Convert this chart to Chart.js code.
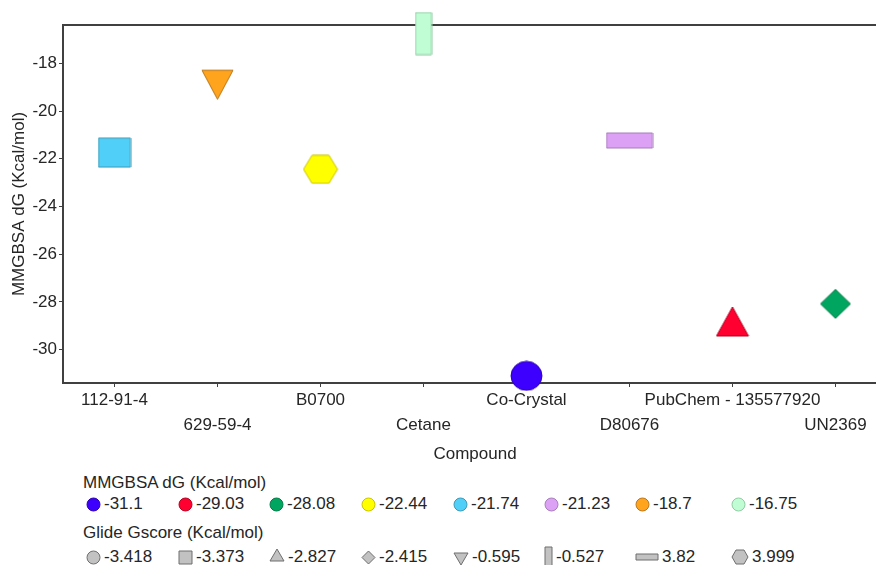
<!DOCTYPE html>
<html>
<head>
<meta charset="utf-8">
<script src="https://cdn.jsdelivr.net/npm/chart.js@4/dist/chart.umd.min.js"></script>
<style>
  html, body { margin: 0; padding: 0; overflow: hidden; background: #fff; }
  body { width: 876px; height: 565px; position: relative; font-family: 'Liberation Sans', Arial, sans-serif; color: #262626; }
  #myChart { position: absolute; left: 0; top: 0; }
  .lg-title { position: absolute; left: 83px; height: 20px; line-height: 20px; font-size: 17px; white-space: nowrap; }
  .lg-row { position: absolute; left: 86px; height: 20px; display: grid; grid-template-columns: 92px 91px 92px 92px 91px 91px 96px auto; font-size: 17px; }
  .lg-item { display: flex; align-items: center; white-space: nowrap; line-height: 20px; }
  .lg-item canvas { margin-right: 3px; }
</style>
</head>
<body>
<canvas id="myChart" width="892" height="470"></canvas>
<div class="lg-title" style="top:473px">MMGBSA dG (Kcal/mol)</div>
<div class="lg-row" id="colorRow" style="top:494px"></div>
<div class="lg-title" style="top:523px">Glide Gscore (Kcal/mol)</div>
<div class="lg-row" id="shapeRow" style="top:546px"></div>
<script>
// 數據
var compounds = ['112-91-4', '629-59-4', 'B0700', 'Cetane', 'Co-Crystal', 'D80676', 'PubChem - 135577920', 'UN2369'];
var mmgbsaValues = [-21.74, -18.7, -22.44, -16.75, -31.1, -21.23, -29.03, -28.08];
var gscoreValues = [-3.373, -0.595, 3.999, -0.527, -3.418, 3.82, -2.827, -2.415];
var yTicks = [-30, -28, -26, -24, -22, -20, -18];

// 圖例順序 (小到大)
var colorLegend = mmgbsaValues.slice().sort((a, b) => a - b);
var shapeLegend = gscoreValues.slice().sort((a, b) => a - b);

// 顏色對應 colorLegend 順序
var fills = ['#3d00ff', '#ff0030', '#00a560', '#ffff00', '#50d0f8', '#dca0f5', '#ffa41c', '#c0fcd4'];
var strokes = ['#2a00b0', '#b3001f', '#007a45', '#c9c400', '#3a98b5', '#a87cbc', '#b8761a', '#8fcca3'];
// 形狀對應 shapeLegend 順序: [形狀, 圖上寬, 圖上高, 圖例寬, 圖例高]
var shapes = [
    ['circle', 31, 29, 13, 13],
    ['rect', 32, 29, 13, 13],
    ['triangle', 32, 29, 14, 12],
    ['diamond', 30, 29, 13, 13],
    ['invtri', 31, 29, 14, 12],
    ['rect', 16, 42, 7, 20],
    ['rect', 46, 15, 22, 6],
    ['hexagon', 34, 28, 16, 14]
];

function makeMarker(shape, w, h, fill, stroke) {
    var pad = 1;
    var c = document.createElement('canvas');
    var ch = (shape === 'triangle' || shape === 'invtri') ? h * 4 / 3 : h;
    c.width = Math.ceil(w + pad * 2);
    c.height = Math.ceil(ch + pad * 2);
    var ctx = c.getContext('2d');
    var cx = c.width / 2, cy = c.height / 2;
    var l = cx - w / 2, r = cx + w / 2, t = cy - h / 2, b = cy + h / 2;
    ctx.beginPath();
    if (shape === 'circle') {
        ctx.ellipse(cx, cy, w / 2, h / 2, 0, 0, Math.PI * 2);
    } else if (shape === 'rect') {
        ctx.rect(l, t, w, h);
    } else if (shape === 'triangle') {
        // 重心在中心
        ctx.moveTo(cx, pad);
        ctx.lineTo(r, pad + h);
        ctx.lineTo(l, pad + h);
        ctx.closePath();
    } else if (shape === 'invtri') {
        ctx.moveTo(l, pad + h / 3);
        ctx.lineTo(r, pad + h / 3);
        ctx.lineTo(cx, pad + h * 4 / 3);
        ctx.closePath();
    } else if (shape === 'diamond') {
        ctx.moveTo(cx, t);
        ctx.lineTo(r, cy);
        ctx.lineTo(cx, b);
        ctx.lineTo(l, cy);
        ctx.closePath();
    } else if (shape === 'hexagon') {
        ctx.moveTo(l, cy);
        ctx.lineTo(cx - w / 4, t);
        ctx.lineTo(cx + w / 4, t);
        ctx.lineTo(r, cy);
        ctx.lineTo(cx + w / 4, b);
        ctx.lineTo(cx - w / 4, b);
        ctx.closePath();
    }
    ctx.fillStyle = fill;
    ctx.fill();
    ctx.lineWidth = 1;
    ctx.strokeStyle = stroke;
    ctx.stroke();
    return c;
}

// 每個點的圖示
var pointImages = compounds.map(function (name, i) {
    var ci = colorLegend.indexOf(mmgbsaValues[i]);
    var s = shapes[shapeLegend.indexOf(gscoreValues[i])];
    return makeMarker(s[0], s[1], s[2], fills[ci], strokes[ci]);
});

// 圖例
var colorRow = document.getElementById('colorRow');
colorLegend.forEach(function (v, i) {
    var item = document.createElement('div');
    item.className = 'lg-item';
    item.appendChild(makeMarker('circle', 13, 13, fills[i], strokes[i]));
    item.appendChild(document.createTextNode(String(v)));
    colorRow.appendChild(item);
});
var shapeRow = document.getElementById('shapeRow');
shapeLegend.forEach(function (v, i) {
    var s = shapes[i];
    var item = document.createElement('div');
    item.className = 'lg-item';
    item.appendChild(makeMarker(s[0], s[3], s[4], '#c2c2c2', '#6e6e6e'));
    item.appendChild(document.createTextNode(String(v)));
    shapeRow.appendChild(item);
});

// 上框線
var topBorder = {
    id: 'topBorder',
    beforeDatasetsDraw: function (chart) {
        var a = chart.chartArea, ctx = chart.ctx;
        ctx.save();
        ctx.strokeStyle = '#404040';
        ctx.lineWidth = 2;
        ctx.beginPath();
        ctx.moveTo(a.left - 1, a.top);
        ctx.lineTo(a.right, a.top);
        ctx.stroke();
        ctx.restore();
    }
};

var font = { family: "'Liberation Sans', Arial, sans-serif", size: 17 };
var ctx = document.getElementById('myChart').getContext('2d');
var myChart = new Chart(ctx, {
    type: 'line',
    data: {
        labels: compounds.map((c, i) => i % 2 === 0 ? [c, ''] : ['', c]),
        datasets: [{
            label: 'MMGBSA dG',
            data: mmgbsaValues,
            showLine: false,
            pointStyle: pointImages,
            pointRadius: 15,
            pointHoverRadius: 15,
            clip: false
        }]
    },
    options: {
        responsive: false,
        animation: false,
        layout: { autoPadding: false, padding: { left: 0, right: 5, top: 25, bottom: 0 } },
        plugins: { legend: { display: false }, tooltip: { enabled: false } },
        scales: {
            x: {
                type: 'category',
                offset: true,
                afterFit: function (scale) { scale.height = 87; },
                grid: { display: true, drawOnChartArea: false, offset: false, tickLength: 4, color: '#404040' },
                border: { color: '#404040', width: 2 },
                ticks: {
                    autoSkip: false, maxRotation: 0, minRotation: 0, padding: 1,
                    color: '#262626', font: Object.assign({ lineHeight: 25 / 17 }, font)
                },
                title: { display: true, text: 'Compound', color: '#262626', font: font, padding: { top: 0, bottom: 5 } }
            },
            y: {
                min: -31.4,
                max: -16.39,
                afterFit: function (scale) { scale.width = 63; },
                afterBuildTicks: function (scale) { scale.ticks = yTicks.map(v => ({ value: v })); },
                grid: { display: true, drawOnChartArea: false, tickLength: 4, color: '#404040' },
                border: { color: '#404040', width: 2 },
                ticks: { padding: 2, color: '#262626', font: font },
                title: { display: true, text: 'MMGBSA dG (Kcal/mol)', color: '#262626', font: font, padding: { top: 9, bottom: 0 } }
            }
        }
    },
    plugins: [topBorder]
});
</script>
</body>
</html>
